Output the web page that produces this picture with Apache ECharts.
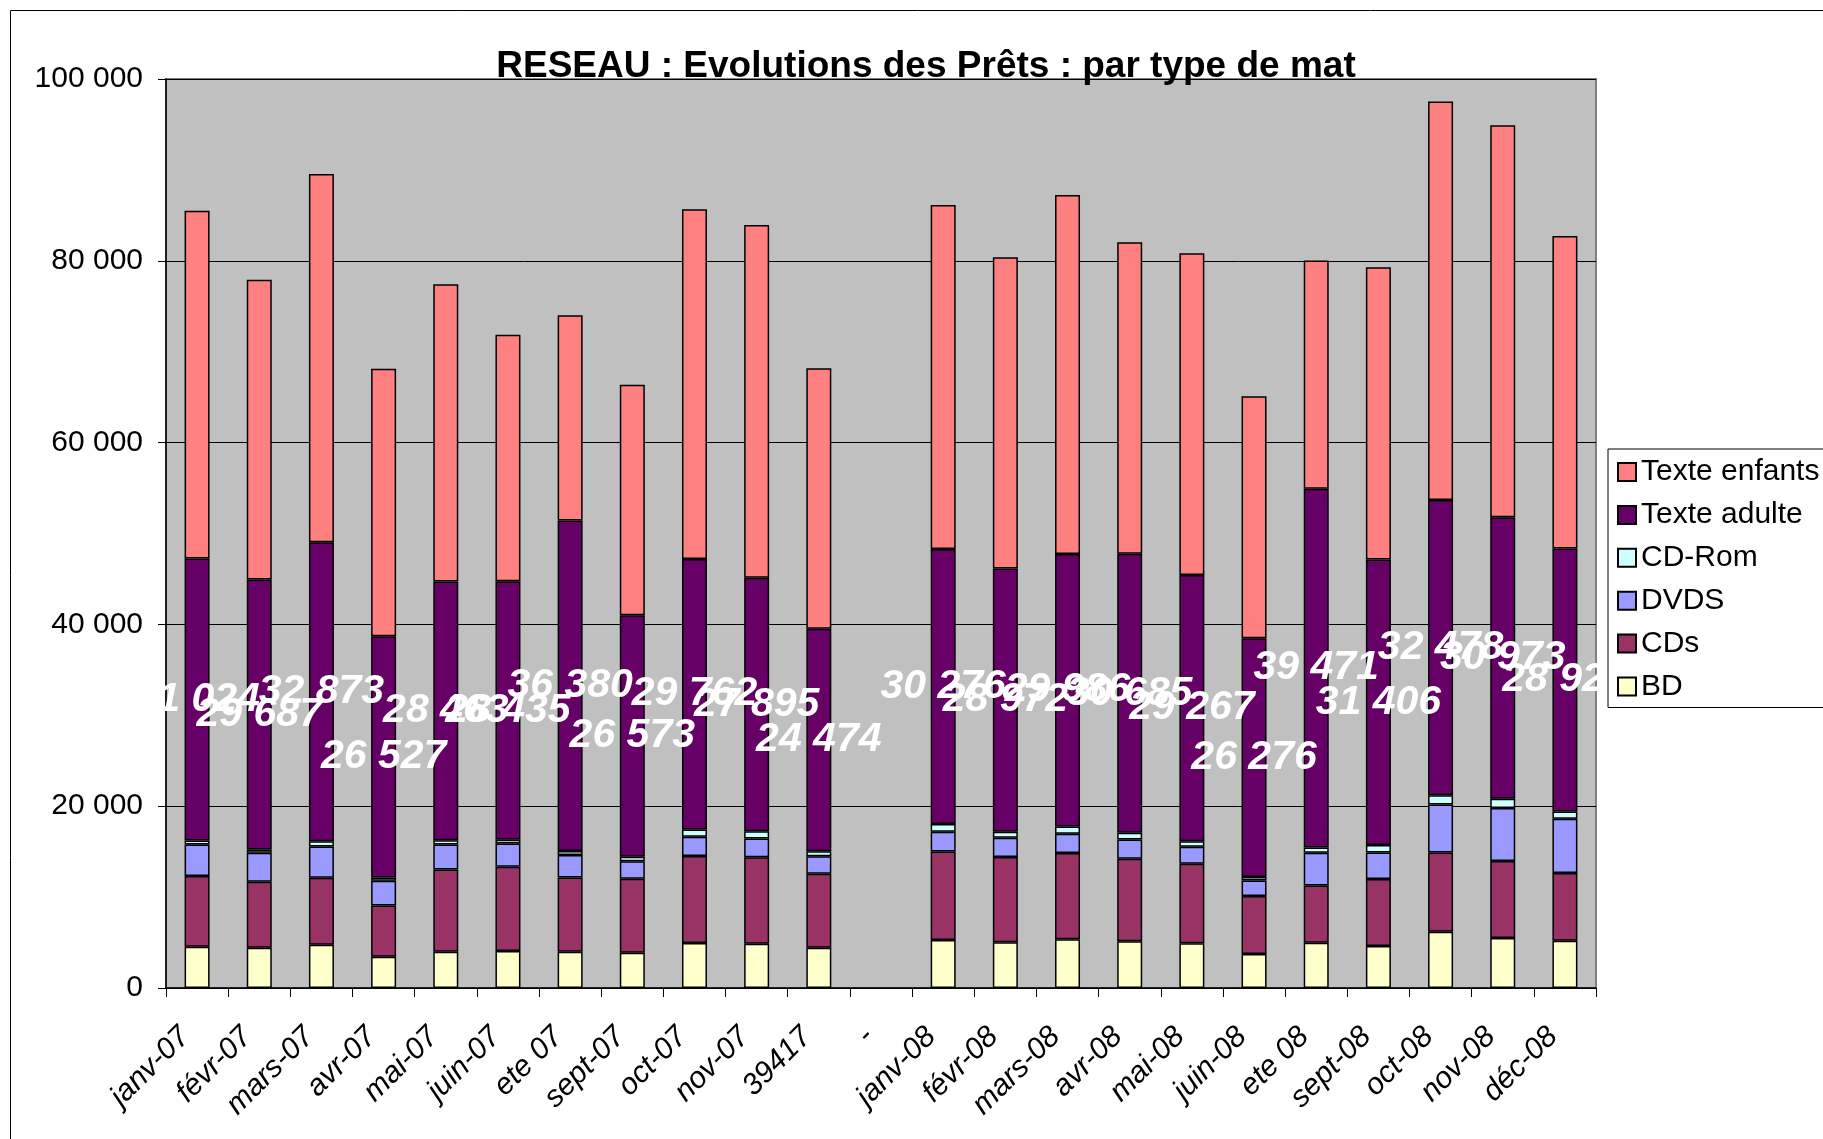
<!DOCTYPE html>
<html>
<head>
<meta charset="utf-8">
<script src="https://cdn.jsdelivr.net/npm/echarts@6/dist/echarts.min.js"></script>
<style>
html,body{margin:0;padding:0;background:#fff;}
#c{width:1823px;height:1139px;}
</style>
</head>
<body>
<div id="c"></div>
<script>
const categories = ['janv-07','févr-07','mars-07','avr-07','mai-07','juin-07','ete 07','sept-07','oct-07','nov-07','39417','-','janv-08','févr-08','mars-08','avr-08','mai-08','juin-08','ete 08','sept-08','oct-08','nov-08','déc-08'];
const bd = [4540,4430,4760,3440,3990,4070,4000,3880,4950,4870,4430,null,5280,5020,5350,5130,4910,3740,4980,4620,6190,5500,5200];
const cds = [7770,7255,7365,5645,9050,9270,8165,8135,9565,9525,8135,null,9745,9380,9490,9085,8755,6375,6300,7365,8720,8465,7440];
const dvds = [3480,3190,3445,2710,2750,2565,2455,1940,2125,2050,1940,null,2160,2125,2125,2125,1870,1720,3590,2930,5275,5825,5970];
const cdrom = [440,365,585,365,475,405,440,475,805,805,550,null,845,660,805,735,620,365,585,805,1025,1025,805];
const texteAdulte = [31024,29687,32873,26527,28463,28435,36380,26573,29762,27895,24474,null,30276,28972,29986,30685,29267,26276,39471,31406,32478,30973,28925];
const texteEnfants = [38265,32975,40525,29430,32695,27115,22575,25350,38465,38795,28655,null,37840,34235,39490,34280,35405,26635,25095,32170,43845,43120,34395];
const yTicks = [0,20000,40000,60000,80000,100000];

const FONT = 'Arial, "Liberation Sans", sans-serif';
function fmt(n){
  if (n === 0) return '0';
  const th = Math.floor(n/1000), r = n % 1000;
  return th > 0 ? th + ' ' + String(r).padStart(3,'0') : String(r);
}
const border = {borderColor:'#000', borderWidth:1.5};
function mk(name, data, color, extra){
  return Object.assign({
    name, type:'bar', stack:'t', data, barWidth:25,
    itemStyle:Object.assign({color}, border),
    emphasis:{disabled:true}
  }, extra||{});
}
const chart = echarts.init(document.getElementById('c'), null, {renderer:'canvas'});
chart.setOption({
  animation:false,
  backgroundColor:'#fff',
  textStyle:{fontFamily:FONT},
  grid:{left:166, right:227, top:79, bottom:151, show:true, backgroundColor:'#C0C0C0', borderColor:'#808080', borderWidth:2},
  graphic:[
    {type:'rect', z:-10, silent:true, shape:{x:10.5,y:10.5,width:3000,height:3000}, style:{fill:'none', stroke:'#000', lineWidth:1}},
    {type:'text', z:100, x:926, y:67, style:{text:'RESEAU : Evolutions des Prêts : par type de mat', font:'bold 37px ' + FONT, fill:'#000', textAlign:'center', textVerticalAlign:'middle'}}
  ],
  legend:{
    orient:'vertical', left:1608, top:449, padding:[8,60,6,9],
    backgroundColor:'#fff', borderColor:'#000', borderWidth:1,
    itemWidth:18, itemHeight:18, itemGap:12.9, icon:'rect',
    textStyle:{fontSize:30, lineHeight:30, color:'#000', fontFamily:FONT},
    data:['Texte enfants','Texte adulte','CD-Rom','DVDS','CDs','BD']
  },
  xAxis:{
    type:'category', data:categories,
    axisLine:{lineStyle:{color:'#000', width:1.5}},
    axisTick:{show:true, alignWithLabel:false, length:9, lineStyle:{color:'#000', width:1}},
    axisLabel:{rotate:45, interval:0, margin:32, padding:[0,17,0,0], fontSize:30, fontStyle:'italic', color:'#000', fontFamily:FONT},
    splitLine:{show:false}
  },
  yAxis:{
    type:'value', min:0, max:100000, interval:20000,
    axisLine:{show:true, lineStyle:{color:'#000', width:1.5}},
    axisTick:{show:true, length:8, lineStyle:{color:'#000'}},
    axisLabel:{fontSize:30, color:'#000', margin:23, fontFamily:FONT, formatter:v => yTicks.indexOf(v) >= 0 ? fmt(v) : ''},
    splitLine:{show:true, lineStyle:{color:'#000', width:1}}
  },
  series:[
    mk('BD', bd, '#FFFFCC'),
    mk('CDs', cds, '#993366'),
    mk('DVDS', dvds, '#9999FF'),
    mk('CD-Rom', cdrom, '#CCFFFF'),
    mk('Texte adulte', texteAdulte, '#660066', {
      label:{show:true, position:'inside', color:'#fff', fontSize:41, fontWeight:'bold', fontStyle:'italic', fontFamily:FONT, textBorderWidth:0, formatter:p => fmt(p.value)}
    }),
    mk('Texte enfants', texteEnfants, '#FF8080')
  ]
});
</script>
</body>
</html>
